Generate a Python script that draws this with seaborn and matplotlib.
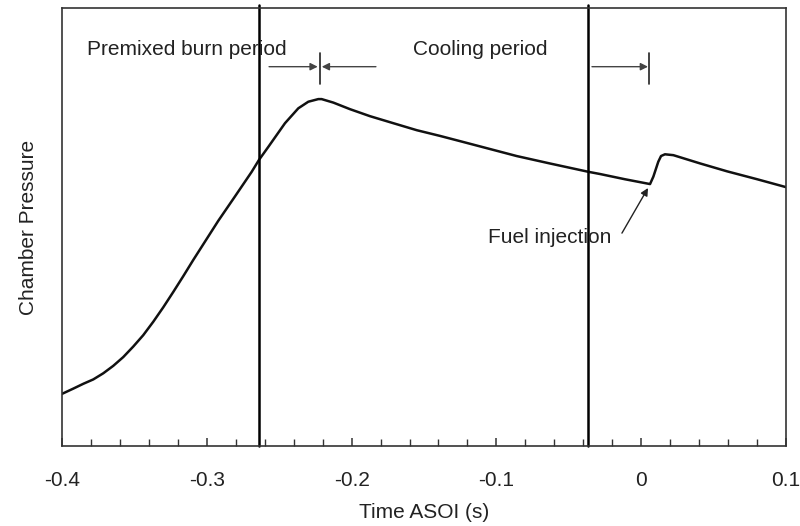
import numpy as np
import pandas as pd
import matplotlib
matplotlib.use("Agg")
import matplotlib.pyplot as plt
import seaborn as sns

# Chamber pressure trace (relative units) versus time after start of injection
time_s = [-0.4000, -0.3922, -0.3853, -0.3784, -0.3715, -0.3646, -0.3577, -0.3508,
          -0.3439, -0.3369, -0.3300, -0.3231, -0.3162, -0.3093, -0.3035, -0.2921,
          -0.2805, -0.2690, -0.2640, -0.2575, -0.2460, -0.2368, -0.2299, -0.2230,
          -0.2207, -0.2126, -0.2011, -0.1873, -0.1712, -0.1550, -0.1390, -0.1251,
          -0.1090, -0.0860, -0.0630, -0.0365, -0.0285, -0.0112, 0.0061, 0.0084,
          0.0118, 0.0137, 0.0164, 0.0222, 0.0408, 0.0594, 0.0801, 0.1000]
pressure = [0.119, 0.131, 0.142, 0.152, 0.166, 0.183, 0.203, 0.227,
            0.253, 0.284, 0.317, 0.352, 0.388, 0.425, 0.455, 0.514,
            0.570, 0.626, 0.653, 0.683, 0.737, 0.771, 0.786, 0.792,
            0.792, 0.784, 0.769, 0.753, 0.737, 0.721, 0.708, 0.696,
            0.682, 0.662, 0.645, 0.626, 0.621, 0.609, 0.598, 0.615,
            0.649, 0.662, 0.666, 0.664, 0.645, 0.627, 0.609, 0.591]

# Period boundaries (s)
boundary_times = [-0.264, -0.0367]
peak_time = -0.222
injection_time = 0.0054

xticks = [-0.4, -0.3, -0.2, -0.1, 0.0, 0.1]
xtick_labels = ["-0.4", "-0.3", "-0.2", "-0.1", "0", "0.1"]

sns.set_theme(style="white")
plt.rcParams["font.family"] = ["Liberation Sans", "DejaVu Sans"]
text_color = "#222222"

fig = plt.figure(figsize=(8.0, 5.26), dpi=100)
ax = fig.add_axes([0.0775, 0.1521, 0.905, 0.8327])

df = pd.DataFrame({"time": time_s, "pressure": pressure})
sns.lineplot(data=df, x="time", y="pressure", ax=ax, color="#111111",
             linewidth=1.8, sort=False)

for t in boundary_times:
    ax.axvline(t, ymin=0, ymax=1.007, color="black", linewidth=1.8, clip_on=False)

ax.set_xlim(-0.4, 0.1)
ax.set_ylim(0, 1)
ax.set_xticks(xticks)
ax.set_xticklabels(xtick_labels)
ax.set_xticks(np.arange(-0.38, 0.1, 0.02), minor=True)
ax.set_yticks([])
ax.tick_params(axis="x", which="major", direction="in", length=6, width=1.1,
               color="#333333", pad=18, labelsize=15, labelcolor=text_color,
               bottom=True)
ax.tick_params(axis="x", which="minor", direction="in", length=5, width=1.0,
               color="#333333", bottom=True)
for sp in ax.spines.values():
    sp.set_color("#333333")
    sp.set_linewidth(1.2)

ax.set_xlabel("Time ASOI (s)", fontsize=15, color=text_color, labelpad=9.5)
ax.set_ylabel("Chamber Pressure", fontsize=15, color=text_color, labelpad=17)

# Period labels
ax.text(-0.3827, 0.906, "Premixed burn period", fontsize=15, color=text_color,
        ha="left", va="center")
ax.text(-0.1576, 0.906, "Cooling period", fontsize=15, color=text_color,
        ha="left", va="center")

# Dimension-style arrows marking period ends
arrow_y = 0.866
arrow_kw = dict(arrowstyle="-|>", color="#444444", lw=1.0, mutation_scale=11,
                shrinkA=0, shrinkB=0)
ax.annotate("", xy=(peak_time - 0.0014, arrow_y), xytext=(-0.257, arrow_y),
            arrowprops=arrow_kw)
ax.annotate("", xy=(peak_time + 0.0014, arrow_y), xytext=(-0.1832, arrow_y),
            arrowprops=arrow_kw)
ax.plot([peak_time, peak_time], [0.826, 0.897], color="#222222", lw=1.2)
ax.annotate("", xy=(injection_time - 0.0007, arrow_y), xytext=(-0.034, arrow_y),
            arrowprops=arrow_kw)
ax.plot([injection_time, injection_time], [0.826, 0.897], color="#222222", lw=1.2)

# Fuel injection callout
ax.text(-0.0205, 0.477, "Fuel injection", fontsize=15, color=text_color,
        ha="right", va="center")
ax.annotate("", xy=(0.0047, 0.589), xytext=(-0.0133, 0.486),
            arrowprops=dict(arrowstyle="-|>", color="#222222", lw=1.0,
                            mutation_scale=11, shrinkA=0, shrinkB=0))

fig.savefig("out.png", dpi=100)
